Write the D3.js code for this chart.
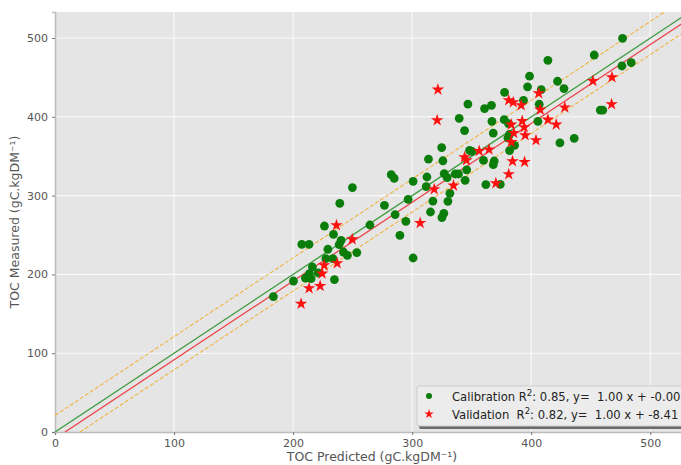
<!DOCTYPE html>
<html lang="en">
<head>
<meta charset="UTF-8">
<title>TOC Predicted vs Measured</title>
<script src="https://cdn.jsdelivr.net/npm/d3@7"></script>
<style>
  body { margin: 0; background: #fff; }
  svg { display: block; font-family: "DejaVu Sans", sans-serif; }
</style>
</head>
<body>
<div id="chart"></div>
<script>
// calibration set (green dots)
const calX = [183.4, 200.3, 207.3, 213.4, 210.3, 213.7, 215.1, 216.2, 221.0, 226.3,
  227.5, 229.2, 233.4, 233.9, 234.7, 238.7, 240.3, 242.3, 245.6, 253.5,
  239.2, 249.8, 264.5, 276.7, 282.4, 284.9, 285.7, 289.7, 294.7, 296.6,
  300.8, 300.8, 312.4, 313.7, 311.8, 315.4, 317.4, 324.8, 325.8, 326.6,
  325.0, 326.9, 329.4, 330.0, 331.7, 336.1, 338.9, 339.5, 344.0, 344.5,
  345.8, 346.8, 348.2, 350.2, 359.9, 360.8, 361.9, 366.6, 367.0, 368.1,
  368.9, 368.1, 374.0, 377.6, 377.3, 380.9, 381.8, 380.4, 381.8, 386.0,
  393.5, 396.9, 398.6, 405.6, 406.7, 408.4, 414.0, 422.1, 427.5, 424.1,
  436.1, 452.9, 458.0, 460.1, 476.2, 484.0, 476.7];
const calY = [171.8, 191.6, 238.2, 238.2, 195.4, 201.0, 194.7, 209.4, 201.8, 261.4,
  220.1, 231.9, 220.1, 250.9, 193.4, 237.8, 243.3, 228.4, 224.2, 227.7,
  290.2, 310.2, 262.7, 287.7, 326.6, 322.0, 275.9, 249.6, 267.4, 295.3,
  220.8, 318.1, 323.6, 346.4, 311.4, 279.2, 293.1, 360.9, 344.2, 277.5,
  272.1, 327.9, 322.8, 292.8, 302.9, 327.4, 327.4, 398.1, 382.5, 319.4,
  332.7, 416.2, 357.5, 356.2, 344.8, 410.4, 314.0, 414.6, 394.3, 379.4,
  343.9, 339.3, 314.3, 431.1, 396.4, 391.4, 377.8, 373.1, 357.1, 363.8,
  420.9, 438.1, 451.6, 394.3, 415.9, 434.5, 471.7, 445.1, 435.8, 366.8,
  372.7, 478.4, 408.6, 408.6, 464.5, 468.8, 499.6];

// validation set (red stars)
const valX = [206.7, 213.4, 222.7, 224.4, 226.1, 237.0, 249.6, 236.4, 306.7, 318.5,
  334.7, 321.6, 321.0, 344.0, 345.6, 356.3, 364.5, 370.3, 381.1, 384.9,
  391.6, 383.2, 392.4, 385.3, 394.1, 394.9, 383.2, 384.3, 394.4, 381.1,
  404.0, 406.3, 407.6, 414.0, 421.0, 428.2, 451.8, 467.8, 467.5];
const valY = [162.7, 182.4, 185.3, 201.0, 211.5, 214.1, 244.5, 262.3, 265.2, 308.0,
  312.7, 434.5, 395.6, 348.6, 344.8, 356.6, 358.4, 315.6, 420.9, 418.4,
  414.6, 390.1, 394.7, 379.4, 386.7, 376.5, 368.0, 343.5, 342.6, 327.0,
  370.2, 429.8, 409.1, 396.4, 390.1, 411.7, 445.4, 450.1, 415.9];

// fitted lines: [slope, intercept]
const calFit = [1.00, -0.00];
const valFit = [1.00, -8.41];
const bandOffset = 21;

const xTicks = [0, 100, 200, 300, 400, 500];
const yTicks = [0, 100, 200, 300, 400, 500];
const legendLabels = [
  ["Calibration", "0.85", "1.00", "-0.00"],
  ["Validation ", "0.82", "1.00", "-8.41"]
];

const W = 681, H = 465;
const margin = { left: 55, top: 12 };
const plotW = 631, plotH = 420;

const svg = d3.select("#chart").append("svg")
  .attr("width", W).attr("height", H);

const x = d3.scaleLinear().domain([0, 530]).range([0, plotW]);
const y = d3.scaleLinear().domain([0, 533]).range([plotH, 0]);

const g = svg.append("g").attr("transform", `translate(${margin.left},${margin.top})`);

svg.append("defs").append("clipPath").attr("id", "clip")
  .append("rect").attr("width", plotW).attr("height", plotH);

g.append("rect").attr("width", plotW).attr("height", plotH).attr("fill", "#e5e5e5");

// grid
g.selectAll(".vgrid").data(xTicks.slice(1)).join("line")
  .attr("x1", d => x(d)).attr("x2", d => x(d))
  .attr("y1", 0).attr("y2", plotH)
  .attr("stroke", "#fafafa").attr("stroke-width", 1.1);
g.selectAll(".hgrid").data(yTicks.slice(1)).join("line")
  .attr("y1", d => y(d)).attr("y2", d => y(d))
  .attr("x1", 0).attr("x2", plotW)
  .attr("stroke", "#fafafa").attr("stroke-width", 1.1);

// axes
const xAxis = g.append("g").attr("transform", `translate(0,${plotH})`)
  .call(d3.axisBottom(x).tickValues(xTicks).tickSize(3).tickPadding(4));
const yAxis = g.append("g")
  .call(d3.axisLeft(y).tickValues(yTicks).tickSize(3).tickPadding(4));
[xAxis, yAxis].forEach(a => {
  a.select(".domain").attr("stroke", "#bcbcbc").attr("stroke-width", 1.5);
  a.selectAll(".tick line").attr("stroke", "#777");
  a.selectAll(".tick text").attr("fill", "#555").attr("font-size", 11)
    .attr("font-family", "DejaVu Sans, sans-serif");
});

// fit and band lines
const lines = g.append("g").attr("clip-path", "url(#clip)");
const line = d3.line().x(d => x(d[0])).y(d => y(d[1]));
function fitPts(slope, b) {
  const x0 = Math.max(0, -b / slope);
  return [[x0, slope * x0 + b], [700, slope * 700 + b]];
}
lines.append("path").attr("d", line(fitPts(calFit[0], calFit[1] + bandOffset)))
  .attr("fill", "none").attr("stroke", "#f2b440").attr("stroke-width", 1.1)
  .attr("stroke-dasharray", "4,2");
lines.append("path").attr("d", line(fitPts(calFit[0], calFit[1] - bandOffset)))
  .attr("fill", "none").attr("stroke", "#f2b440").attr("stroke-width", 1.1)
  .attr("stroke-dasharray", "4,2");
lines.append("path").attr("d", line(fitPts(calFit[0], calFit[1])))
  .attr("fill", "none").attr("stroke", "#3f9b3f").attr("stroke-width", 1.3);
lines.append("path").attr("d", line(fitPts(valFit[0], valFit[1])))
  .attr("fill", "none").attr("stroke", "#ec4349").attr("stroke-width", 1.3);

// points
const calData = calX.map((v, i) => [v, calY[i]]);
const valData = valX.map((v, i) => [v, valY[i]]);
const star = d3.symbol().type(d3.symbolStar).size(48);

g.append("g").selectAll("circle").data(calData).join("circle")
  .attr("cx", d => x(d[0])).attr("cy", d => y(d[1]))
  .attr("r", 4.4).attr("fill", "#0a7d0a");
g.append("g").selectAll("path").data(valData).join("path")
  .attr("d", star)
  .attr("transform", d => `translate(${x(d[0])},${y(d[1])})`)
  .attr("fill", "#ff1010");

// axis labels
svg.append("text").attr("x", 372).attr("y", 461)
  .attr("text-anchor", "middle").attr("font-size", 12.5).attr("fill", "#555")
  .text("TOC Predicted (gC.kgDM⁻¹)");
svg.append("text")
  .attr("transform", `translate(19,${margin.top + plotH / 2}) rotate(-90)`)
  .attr("text-anchor", "middle").attr("font-size", 12.5).attr("fill", "#555")
  .text("TOC Measured (gC.kgDM⁻¹)");

// legend
const lg = svg.append("g").attr("transform", "translate(417,386)");
lg.append("rect").attr("x", 2).attr("y", 3).attr("width", 300).attr("height", 40)
  .attr("fill", "#6a6a6a").attr("rx", 2);
lg.append("rect").attr("width", 300).attr("height", 40)
  .attr("fill", "#ececec").attr("stroke", "#cccccc").attr("rx", 2);
legendLabels.forEach((l, i) => {
  const ty = 13 + i * 18;
  if (i === 0) {
    lg.append("circle").attr("cx", 12).attr("cy", ty - 3).attr("r", 3).attr("fill", "#0a7d0a");
  } else {
    lg.append("path").attr("d", d3.symbol().type(d3.symbolStar).size(28))
      .attr("transform", `translate(12,${ty - 3})`).attr("fill", "#ff1010");
  }
  const t = lg.append("text").attr("x", 35).attr("y", ty + 1.5)
    .attr("font-size", 11.6).attr("fill", "#222").attr("xml:space", "preserve");
  t.append("tspan").text(`${l[0]} R`);
  t.append("tspan").attr("dy", -5).attr("font-size", 8.5).text("2");
  t.append("tspan").attr("dy", 5).text(`: ${l[1]}, y=  ${l[2]} x + ${l[3]}`);
});
</script>
</body>
</html>
